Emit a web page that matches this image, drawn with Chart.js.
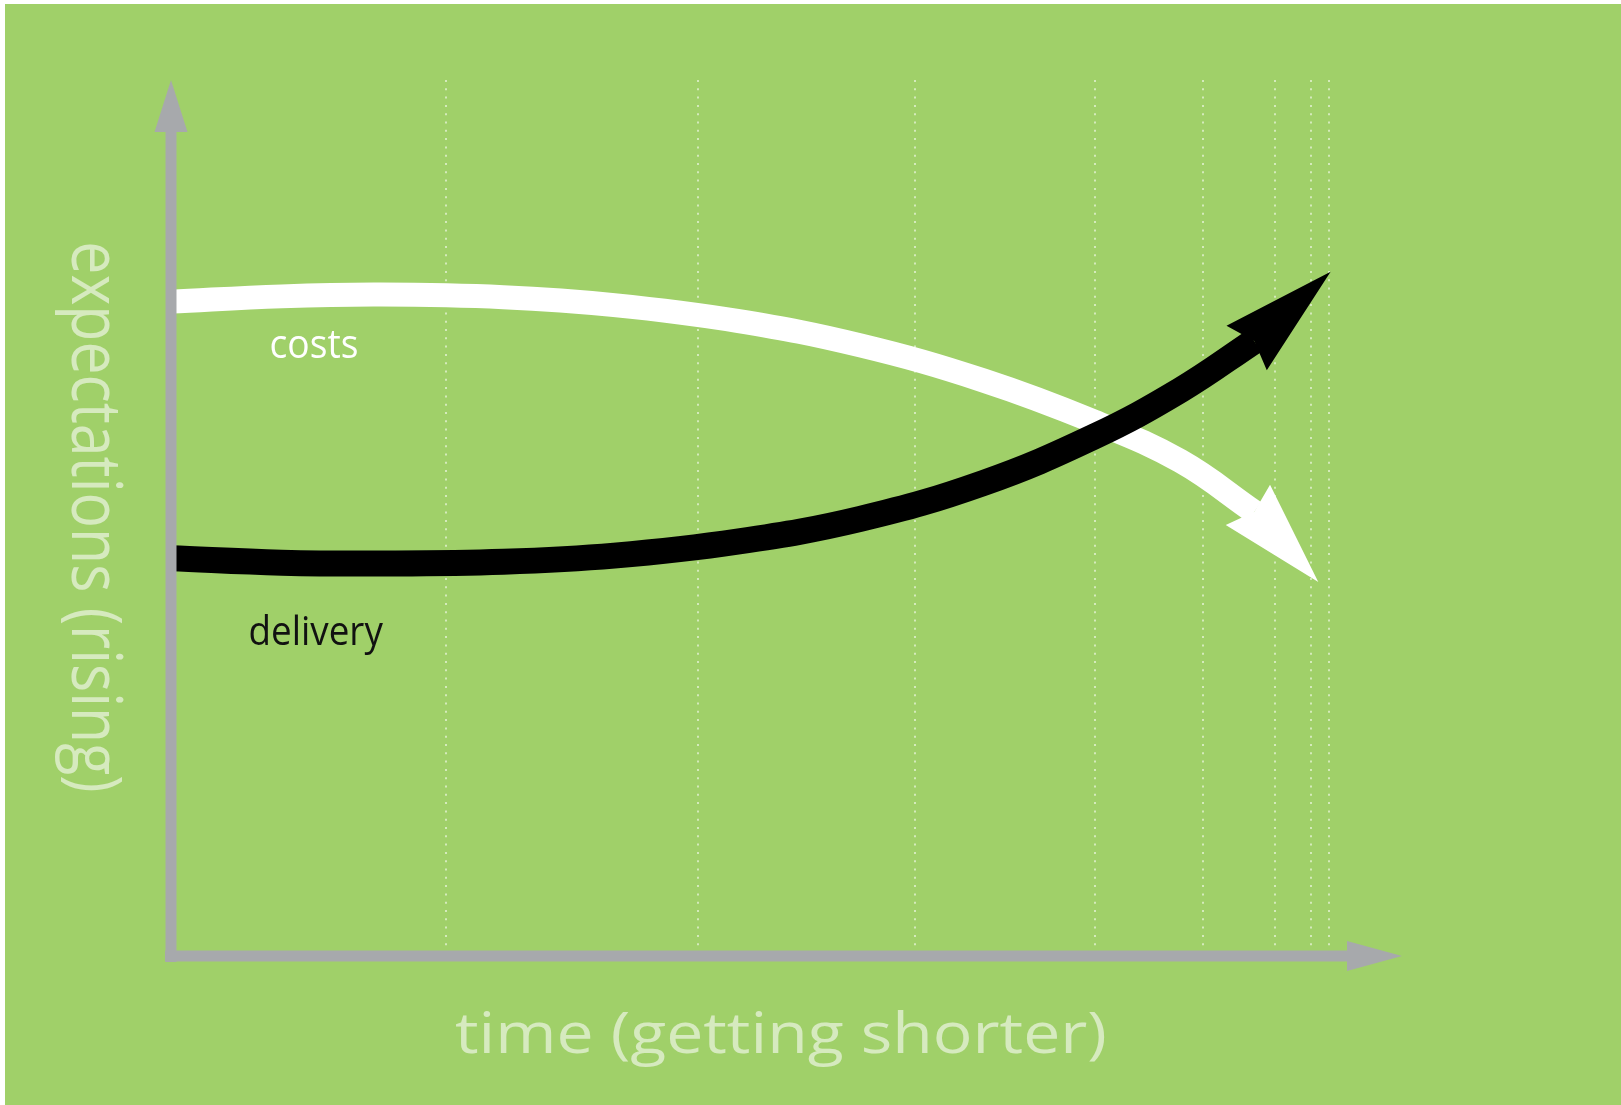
<!DOCTYPE html>
<html>
<head>
<meta charset="utf-8">
<title>expectations vs time</title>
<script src="https://cdn.jsdelivr.net/npm/chart.js"></script>
<style>
  html, body { margin: 0; padding: 0; background: #fff; }
  #wrap { position: absolute; left: 0; top: 0; width: 1621px; height: 1105px; }
</style>
</head>
<body>
<div id="wrap"><canvas id="chart" width="1621" height="1105"></canvas></div>
<script>
// time goes 0..100 along the bottom, expectations 0..100 up the side
const timeSteps = [0, 9, 17, 27, 36, 46, 56, 66, 75, 82, 88];
const costs     = [74.7, 75.3, 75.5, 75.2, 74.3, 72.5, 69.7, 65.7, 61.0, 56.5, 50.7];
const delivery  = [45.4, 44.9, 44.8, 45.0, 45.7, 47.3, 49.9, 54.0, 59.3, 64.6, 70.2];
// where the arrow points end up
const costsTip    = [93.2, 42.7];
const deliveryTip = [94.2, 78.1];
// dotted time marks, closer and closer together
const timeMarks = [22.3, 42.8, 60.4, 75.1, 83.8, 89.7, 92.6, 94.1];
const seriesNames = ["delivery", "costs"];
const axisTitles = ["time (getting shorter)", "expectations (rising)"];

const green = "#a0d069";
const grey = "#a7a9ac";
const pale = "#d6eabf";
const font = "'Open Sans', 'Noto Sans', sans-serif";

function toPoints(xs, ys) {
  return xs.map((v, i) => ({ x: v, y: ys[i] }));
}

function arrowHead(ctx, from, to, half, color) {
  let dx = to.x - from.x, dy = to.y - from.y;
  let len = Math.sqrt(dx * dx + dy * dy);
  let ux = dx / len, uy = dy / len;
  let back = len * 0.1;
  let bx = from.x - ux * back, by = from.y - uy * back;
  ctx.beginPath();
  ctx.moveTo(to.x, to.y);
  ctx.lineTo(bx - uy * half, by + ux * half);
  ctx.lineTo(from.x, from.y);
  ctx.lineTo(bx + uy * half, by - ux * half);
  ctx.closePath();
  ctx.fillStyle = color;
  ctx.fill();
}

function stretchedText(ctx, text, x, y, size, sx, color, rotate) {
  ctx.save();
  ctx.translate(x, y);
  ctx.scale(sx, 1);
  if (rotate) ctx.rotate(Math.PI / 2);
  ctx.font = size + "px " + font;
  ctx.fillStyle = color;
  ctx.textBaseline = "alphabetic";
  ctx.textAlign = rotate ? "center" : "left";
  ctx.fillText(text, 0, 0);
  ctx.restore();
}

const tips = { delivery: deliveryTip, costs: costsTip };

const drawing = {
  id: "drawing",
  beforeDraw(chart) {
    const ctx = chart.ctx;
    ctx.save();
    ctx.fillStyle = "#fff";
    ctx.fillRect(0, 0, chart.width, chart.height);
    ctx.fillStyle = green;
    ctx.fillRect(5, 4, chart.width - 5, chart.height - 4);
    ctx.restore();
  },
  afterDatasetDraw(chart, args) {
    const ds = chart.data.datasets[args.index];
    const pts = args.meta.data;
    const last = pts[pts.length - 1];
    const tip = tips[ds.label];
    const to = {
      x: chart.scales.x.getPixelForValue(tip[0]),
      y: chart.scales.y.getPixelForValue(tip[1])
    };
    chart.ctx.save();
    arrowHead(chart.ctx, { x: last.x, y: last.y }, to, 30, ds.borderColor);
    chart.ctx.restore();
  },
  afterDatasetsDraw(chart) {
    const ctx = chart.ctx, xs = chart.scales.x, ys = chart.scales.y;
    const x0 = xs.getPixelForValue(0), y0 = ys.getPixelForValue(0);
    const xEnd = xs.getPixelForValue(100), yEnd = ys.getPixelForValue(100);
    ctx.save();
    ctx.fillStyle = grey;
    // up axis
    ctx.fillRect(x0 - 5.5, yEnd + 52, 11, y0 + 6 - (yEnd + 52));
    ctx.beginPath();
    ctx.moveTo(x0, yEnd);
    ctx.lineTo(x0 + 16.5, yEnd + 52);
    ctx.lineTo(x0 - 16.5, yEnd + 52);
    ctx.closePath();
    ctx.fill();
    // time axis
    ctx.fillRect(x0 - 6, y0 - 5.5, xEnd - 55 - (x0 - 6), 11);
    ctx.beginPath();
    ctx.moveTo(xEnd, y0);
    ctx.lineTo(xEnd - 55, y0 - 15);
    ctx.lineTo(xEnd - 55, y0 + 15);
    ctx.closePath();
    ctx.fill();
    ctx.restore();
  },
  afterDraw(chart) {
    const ctx = chart.ctx, xs = chart.scales.x, ys = chart.scales.y;
    // series names next to their arrows
    stretchedText(ctx, seriesNames[1], xs.getPixelForValue(8.0), ys.getPixelForValue(68.3), 40, 0.93, "#fff", false);
    stretchedText(ctx, seriesNames[0], xs.getPixelForValue(6.3), ys.getPixelForValue(35.5), 40, 0.92, "#111", false);
    // axis titles
    stretchedText(ctx, axisTitles[0], 455, 1053, 57, 1.16, pale, false);
    stretchedText(ctx, axisTitles[1], 72, 517, 59, 1.18, pale, true);
  }
};

new Chart(document.getElementById("chart"), {
  type: "line",
  data: {
    datasets: [{
      label: seriesNames[0],
      data: toPoints(timeSteps, delivery),
      borderColor: "#000",
      borderWidth: 26,
      borderCapStyle: "butt",
      tension: 0.4,
      pointRadius: 0,
      fill: false,
      clip: false
    }, {
      label: seriesNames[1],
      data: toPoints(timeSteps, costs),
      borderColor: "#fff",
      borderWidth: 24,
      borderCapStyle: "butt",
      tension: 0.4,
      pointRadius: 0,
      fill: false,
      clip: false
    }]
  },
  options: {
    responsive: false,
    devicePixelRatio: 1,
    animation: false,
    layout: { padding: { left: 171, right: 219, top: 80, bottom: 149 } },
    plugins: { legend: { display: false }, tooltip: { enabled: false }, title: { display: false } },
    scales: {
      x: {
        type: "linear",
        min: 0,
        max: 100,
        afterBuildTicks: (axis) => { axis.ticks = timeMarks.map(v => ({ value: v })); },
        afterFit: (axis) => { axis.height = 0; },
        ticks: { display: false },
        grid: { color: "rgba(255,255,255,0.55)", lineWidth: 2, drawTicks: false },
        border: { display: false, dash: [2, 6.3] }
      },
      y: { type: "linear", min: 0, max: 100, display: false }
    }
  },
  plugins: [drawing]
});
</script>
</body>
</html>
